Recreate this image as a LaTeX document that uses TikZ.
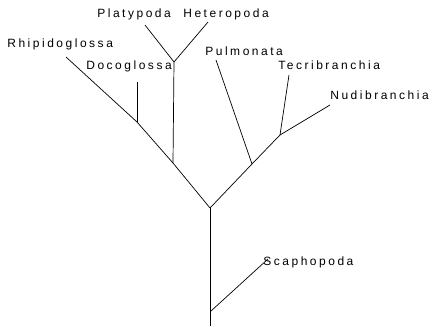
\documentclass[tikz,border=0pt]{standalone}
\usepackage{fontspec}
\setmainfont{Liberation Sans}[LetterSpace=21]
\begin{document}
\begin{tikzpicture}[x=1pt,y=-1pt,line width=0.7pt,
    taxon/.style={inner sep=0pt,anchor=base west,font=\fontsize{12}{14}\selectfont}]
  \useasboundingbox (0,0) rectangle (432,327);
  % Stamm und Gabelungen
  \coordinate (root) at (210,326);
  \coordinate (scajoin) at (211,311);
  \coordinate (fork) at (210,208);
  \coordinate (platjoin) at (173,163);
  \coordinate (docojoin) at (137,122);
  \coordinate (pulmjoin) at (252,164);
  \coordinate (tectjoin) at (280,135);
  \coordinate (platfork) at (174,62);
  % Enden der Zweige
  \coordinate (scaend) at (268,259);
  \coordinate (rhipend) at (66,57);
  \coordinate (docoend) at (137,82);
  \coordinate (platend) at (145,25);
  \coordinate (heteend) at (208,22);
  \coordinate (pulmend) at (216,60);
  \coordinate (tectend) at (289,75);
  \coordinate (nudiend) at (330,105);
  % Namen
  \node[taxon] (rhip) at (7,47) {Rhipidoglossa};
  \node[taxon] (doco) at (86,69) {Docoglossa};
  \node[taxon] (plat) at (97,17) {Platypoda};
  \node[taxon] (hete) at (183,17) {Heteropoda};
  \node[taxon] (pulm) at (205,55) {Pulmonata};
  \node[taxon] (tect) at (278,69) {Tecribranchia};
  \node[taxon] (nudi) at (330,99) {Nudibranchia};
  \node[taxon] (scap) at (263,265) {Scaphopoda};
  % Linien
  \draw (root) -- (fork);
  \draw (scajoin) -- (scaend);
  \draw (fork) -- (platjoin) -- (docojoin) -- (rhipend);
  \draw (docojoin) -- (docoend);
  \draw (platjoin) -- (platfork);
  \draw (platfork) -- (platend);
  \draw (platfork) -- (heteend);
  \draw (fork) -- (pulmjoin) -- (tectjoin) -- (nudiend);
  \draw (pulmjoin) -- (pulmend);
  \draw (tectjoin) -- (tectend);
\end{tikzpicture}
\end{document}
